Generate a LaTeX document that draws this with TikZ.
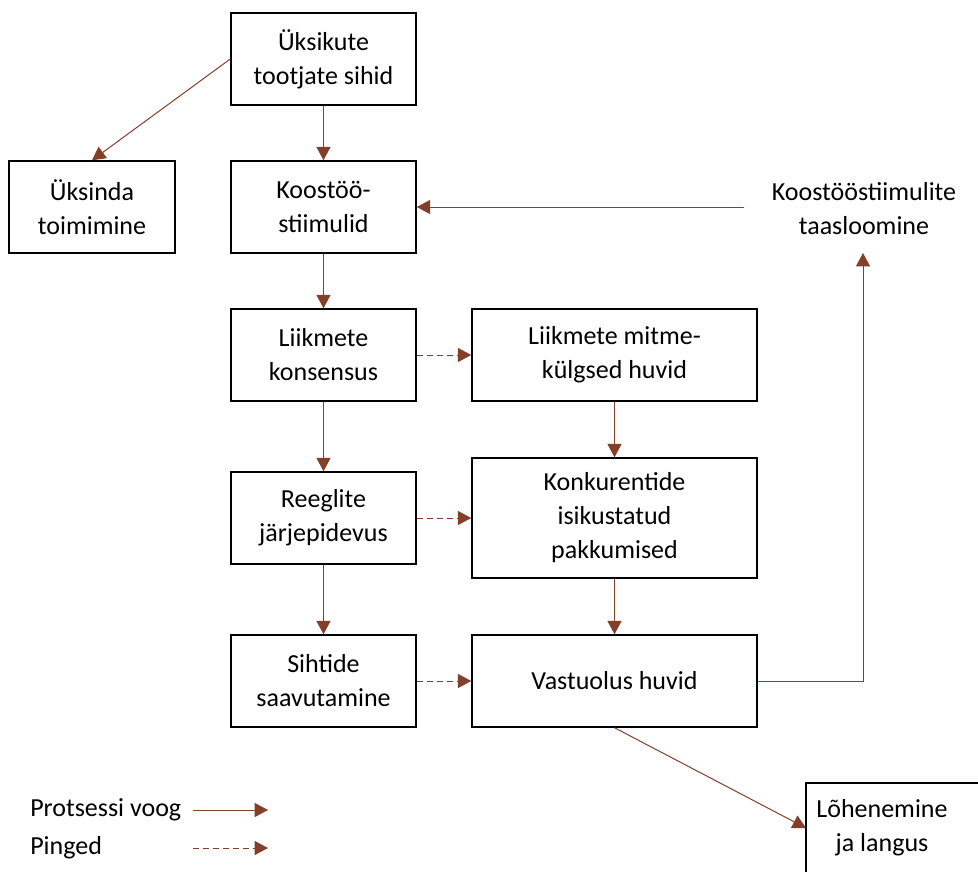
\documentclass[tikz,border=0pt]{standalone}
\usepackage{fontspec}
\setmainfont{Carlito}
\usetikzlibrary{arrows.meta}
\definecolor{brn}{HTML}{843F2A}
\begin{document}
\begin{tikzpicture}[x=0.75pt,y=-0.75pt,
  every node/.style={font=\fontsize{19.5pt}{25.5pt}\selectfont, align=center, inner sep=0pt},
  box/.style={draw=black, line width=1.1pt, minimum width=138.75pt, minimum height=69pt},
  wbox/.style={box, minimum width=213.75pt},
  flow/.style={draw=brn, line width=0.75pt, -{Triangle[length=10pt,width=10.5pt]}},
  tens/.style={flow, dash pattern=on 4.5pt off 3pt},
  txt/.style={anchor=west}]
\useasboundingbox (0,0) rectangle (978,872);
\fill[white] (0,0) rectangle (978,872);

\node[box] (top) at (323.5,59) {Üksikute\\tootjate sihid};
\node[box, minimum width=124.5pt] (yks) at (92,207) {Üksinda\\toimimine};
\node[box] (koos) at (323.5,207) {Koostöö-\\stiimulid};
\node[box] (kons) at (323.5,355) {Liikmete\\konsensus};
\node[wbox] (mitm) at (614.5,355) {Liikmete mitme-\\külgsed huvid};
\node[box] (reeg) at (323.5,518) {Reeglite\\järjepidevus};
\node[wbox, minimum height=90pt] (konk) at (614.5,518) {Konkurentide\\isikustatud\\pakkumised};
\node[box] (siht) at (323.5,681) {Sihtide\\saavutamine};
\node[wbox] (vast) at (614.5,681) {Vastuolus huvid};
\node (taas) at (864,209) {Koostööstiimulite\\taasloomine};
\coordinate (tw) at (744,207);
\coordinate (tb) at (863,253);

% partially visible box
\draw[black, line width=1.1pt] (978,783) -- (806,783) -- (806,872);
\node (loh) at (882,828) {Lõhenemine\\ja langus};
\coordinate (lw) at (806,828);

\draw[flow] (top.south) -- (koos.north);
\draw[flow] (top.west) -- (yks.north);
\draw[flow] (koos.south) -- (kons.north);
\draw[flow] (kons.south) -- (reeg.north);
\draw[flow] (reeg.south) -- (siht.north);
\draw[flow] (mitm.south) -- (konk.north);
\draw[flow] (konk.south) -- (vast.north);
\draw[flow] (tw) -- (koos.east);
\draw[flow] (vast.east) -| (tb);
\draw[flow] (vast.south) -- (lw);
\draw[tens] (kons.east) -- (mitm.west);
\draw[tens] (reeg.east) -- (konk.west);
\draw[tens] (siht.east) -- (vast.west);

% legend
\node[txt] (l1) at (30,810) {Protsessi voog};
\node[txt] (l2) at (30,848) {Pinged};
\coordinate (a1) at (193,810);
\coordinate (b1) at (268,810);
\coordinate (a2) at (193,848);
\coordinate (b2) at (268,848);
\draw[flow] (a1) -- (b1);
\draw[tens] (a2) -- (b2);
\end{tikzpicture}
\end{document}
